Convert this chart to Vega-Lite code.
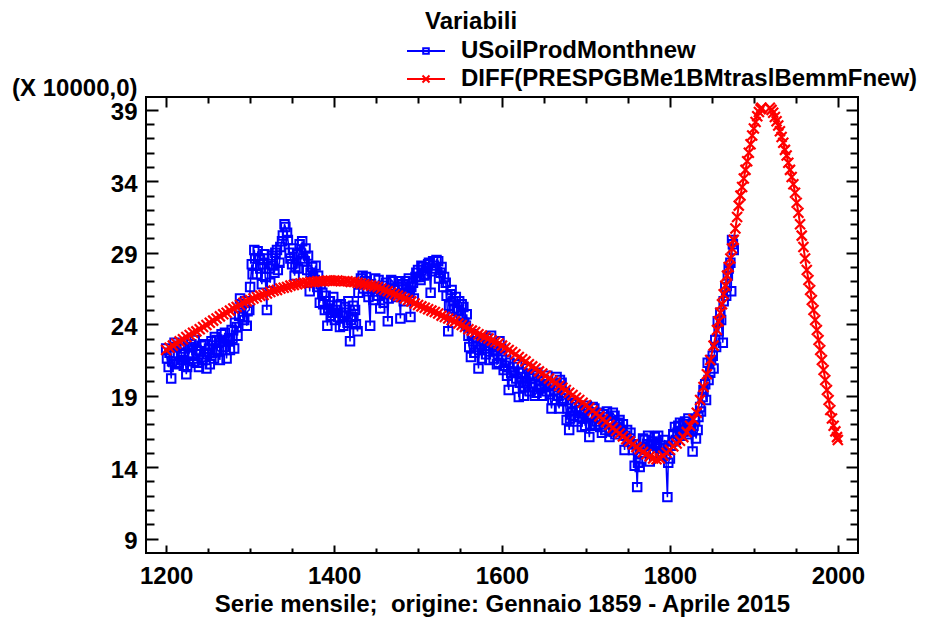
{
  "$schema": "https://vega.github.io/schema/vega-lite/v6.json",
  "width": 712,
  "height": 456,
  "autosize": {"type": "none"},
  "padding": {"left": 146, "top": 97, "right": 75, "bottom": 68},
  "background": "white",
  "config": {
    "view": {"stroke": "black", "strokeWidth": 2},
    "axis": {
      "labelFont": "Liberation Sans", "labelFontWeight": "bold", "labelFontSize": 24, "labelColor": "black",
      "titleFont": "Liberation Sans", "titleFontWeight": "bold", "titleFontSize": 24, "titleColor": "black",
      "tickColor": "black", "tickWidth": 2, "domain": false, "grid": false
    }
  },
  "datasets": {
    "blue": [
      {"t":1200,"v":22.3},{"t":1203,"v":21.0},{"t":1206,"v":20.2},{"t":1209,"v":21.8},{"t":1212,"v":22.4},{"t":1215,"v":21.3},{"t":1218,"v":22.0},{"t":1221,"v":21.1},{"t":1224,"v":20.5},{"t":1227,"v":21.9},
      {"t":1230,"v":22.6},{"t":1233,"v":21.4},{"t":1236,"v":22.2},{"t":1239,"v":21.0},{"t":1242,"v":22.5},{"t":1245,"v":21.7},{"t":1248,"v":20.9},{"t":1251,"v":22.3},{"t":1254,"v":22.8},{"t":1257,"v":21.6},
      {"t":1260,"v":22.9},{"t":1263,"v":22.1},{"t":1266,"v":23.3},{"t":1269,"v":22.4},{"t":1272,"v":21.6},{"t":1275,"v":23.0},{"t":1278,"v":23.6},{"t":1281,"v":22.3},{"t":1284,"v":23.8},{"t":1287,"v":24.6},
      {"t":1290,"v":25.4},{"t":1293,"v":24.3},{"t":1296,"v":23.9},{"t":1299,"v":25.0},{"t":1302,"v":28.2},{"t":1305,"v":29.2},{"t":1308,"v":27.5},{"t":1311,"v":28.6},{"t":1314,"v":26.8},{"t":1317,"v":28.9},
      {"t":1320,"v":25.0},{"t":1323,"v":27.9},{"t":1326,"v":28.8},{"t":1329,"v":27.6},{"t":1332,"v":29.2},{"t":1335,"v":28.3},{"t":1338,"v":29.8},{"t":1341,"v":31.0},{"t":1344,"v":30.4},{"t":1347,"v":29.0},
      {"t":1350,"v":28.2},{"t":1353,"v":27.4},{"t":1356,"v":28.9},{"t":1359,"v":29.6},{"t":1362,"v":29.8},{"t":1365,"v":28.4},{"t":1368,"v":27.8},{"t":1371,"v":26.3},{"t":1374,"v":28.0},{"t":1377,"v":27.1},
      {"t":1380,"v":26.6},{"t":1383,"v":25.5},{"t":1386,"v":26.2},{"t":1389,"v":25.0},{"t":1392,"v":23.9},{"t":1395,"v":25.6},{"t":1398,"v":24.8},{"t":1401,"v":24.3},{"t":1404,"v":25.3},{"t":1407,"v":23.8},
      {"t":1410,"v":24.6},{"t":1413,"v":25.2},{"t":1416,"v":24.1},{"t":1419,"v":22.8},{"t":1422,"v":24.5},{"t":1425,"v":25.0},{"t":1428,"v":23.5},{"t":1431,"v":26.8},{"t":1434,"v":27.4},{"t":1437,"v":27.0},
      {"t":1440,"v":26.3},{"t":1443,"v":23.9},{"t":1446,"v":26.5},{"t":1449,"v":27.2},{"t":1452,"v":26.0},{"t":1455,"v":25.1},{"t":1458,"v":26.7},{"t":1461,"v":26.2},{"t":1464,"v":24.2},{"t":1467,"v":26.4},
      {"t":1470,"v":27.0},{"t":1473,"v":26.1},{"t":1476,"v":26.6},{"t":1479,"v":24.4},{"t":1482,"v":26.8},{"t":1485,"v":27.0},{"t":1488,"v":26.2},{"t":1491,"v":24.5},{"t":1494,"v":26.9},{"t":1497,"v":27.3},
      {"t":1500,"v":27.8},{"t":1503,"v":27.1},{"t":1506,"v":28.0},{"t":1509,"v":27.5},{"t":1512,"v":28.2},{"t":1515,"v":26.2},{"t":1518,"v":28.4},{"t":1521,"v":27.9},{"t":1524,"v":28.4},{"t":1527,"v":27.6},
      {"t":1530,"v":26.6},{"t":1533,"v":26.9},{"t":1536,"v":23.5},{"t":1539,"v":26.1},{"t":1542,"v":25.6},{"t":1545,"v":25.9},{"t":1548,"v":25.0},{"t":1551,"v":24.6},{"t":1554,"v":25.2},{"t":1557,"v":23.9},
      {"t":1560,"v":23.2},{"t":1563,"v":21.7},{"t":1566,"v":22.8},{"t":1569,"v":22.4},{"t":1572,"v":20.9},{"t":1575,"v":22.6},{"t":1578,"v":22.9},{"t":1581,"v":21.9},{"t":1584,"v":22.5},{"t":1587,"v":23.2},
      {"t":1590,"v":21.6},{"t":1593,"v":22.1},{"t":1596,"v":21.3},{"t":1599,"v":22.3},{"t":1602,"v":20.8},{"t":1605,"v":21.5},{"t":1608,"v":19.4},{"t":1611,"v":20.6},{"t":1614,"v":21.0},{"t":1617,"v":20.2},
      {"t":1620,"v":18.9},{"t":1623,"v":20.3},{"t":1626,"v":19.0},{"t":1629,"v":20.0},{"t":1632,"v":20.5},{"t":1635,"v":19.6},{"t":1638,"v":20.4},{"t":1641,"v":19.2},{"t":1644,"v":20.0},{"t":1647,"v":19.5},
      {"t":1650,"v":20.1},{"t":1653,"v":19.3},{"t":1656,"v":19.8},{"t":1659,"v":18.1},{"t":1662,"v":19.4},{"t":1665,"v":20.3},{"t":1668,"v":18.1},{"t":1671,"v":19.9},{"t":1674,"v":18.8},{"t":1677,"v":17.3},
      {"t":1680,"v":16.6},{"t":1683,"v":18.4},{"t":1686,"v":17.6},{"t":1689,"v":18.2},{"t":1692,"v":17.5},{"t":1695,"v":16.8},{"t":1698,"v":17.9},{"t":1701,"v":18.3},{"t":1704,"v":16.1},{"t":1707,"v":17.7},
      {"t":1710,"v":18.1},{"t":1713,"v":17.2},{"t":1716,"v":17.8},{"t":1719,"v":16.4},{"t":1722,"v":17.5},{"t":1725,"v":17.9},{"t":1728,"v":16.1},{"t":1731,"v":17.0},{"t":1734,"v":17.6},{"t":1737,"v":16.8},
      {"t":1740,"v":17.3},{"t":1743,"v":16.5},{"t":1746,"v":15.2},{"t":1749,"v":16.6},{"t":1752,"v":16.0},{"t":1755,"v":15.6},{"t":1758,"v":14.1},{"t":1761,"v":12.6},{"t":1764,"v":14.0},{"t":1767,"v":15.3},
      {"t":1770,"v":15.9},{"t":1773,"v":15.6},{"t":1776,"v":14.4},{"t":1779,"v":15.8},{"t":1782,"v":16.1},{"t":1785,"v":15.7},{"t":1788,"v":15.3},{"t":1791,"v":14.8},{"t":1794,"v":15.9},{"t":1797,"v":11.9},
      {"t":1800,"v":14.6},{"t":1803,"v":15.8},{"t":1806,"v":16.8},{"t":1809,"v":16.4},{"t":1812,"v":17.1},{"t":1815,"v":16.5},{"t":1818,"v":17.2},{"t":1821,"v":16.3},{"t":1824,"v":16.8},{"t":1827,"v":15.1},
      {"t":1830,"v":17.3},{"t":1833,"v":16.6},{"t":1836,"v":18.2},{"t":1839,"v":18.9},{"t":1842,"v":19.8},{"t":1845,"v":21.3},{"t":1848,"v":20.6},{"t":1851,"v":21.8},{"t":1854,"v":22.9},{"t":1857,"v":24.2},
      {"t":1860,"v":24.8},{"t":1863,"v":22.7},{"t":1866,"v":26.6},{"t":1869,"v":27.4},{"t":1872,"v":28.3},{"t":1873,"v":26.3},{"t":1874,"v":29.9},{"t":1876,"v":29.2},
      {"t":1201,"v":21.6},{"t":1204,"v":22.0},{"t":1207,"v":21.4},{"t":1210,"v":22.7},{"t":1213,"v":21.2},{"t":1216,"v":22.5},{"t":1219,"v":21.5},{"t":1222,"v":22.3},{"t":1225,"v":21.0},{"t":1228,"v":22.4},
      {"t":1231,"v":21.8},{"t":1234,"v":22.9},{"t":1237,"v":21.3},{"t":1240,"v":22.1},{"t":1243,"v":21.5},{"t":1246,"v":22.6},{"t":1249,"v":21.9},{"t":1252,"v":21.2},{"t":1255,"v":22.0},{"t":1258,"v":23.1},
      {"t":1261,"v":22.2},{"t":1264,"v":21.5},{"t":1267,"v":22.8},{"t":1270,"v":23.4},{"t":1273,"v":22.9},{"t":1276,"v":22.2},{"t":1279,"v":23.0},{"t":1282,"v":24.1},{"t":1285,"v":23.2},{"t":1288,"v":25.8},
      {"t":1291,"v":24.5},{"t":1294,"v":25.6},{"t":1297,"v":24.9},{"t":1300,"v":26.6},{"t":1303,"v":27.5},{"t":1306,"v":28.6},{"t":1309,"v":29.1},{"t":1312,"v":27.9},{"t":1315,"v":28.2},{"t":1318,"v":27.3},
      {"t":1321,"v":28.6},{"t":1324,"v":26.9},{"t":1327,"v":28.1},{"t":1330,"v":29.0},{"t":1333,"v":27.8},{"t":1336,"v":29.4},{"t":1339,"v":30.2},{"t":1342,"v":30.8},{"t":1345,"v":29.9},{"t":1348,"v":28.6},
      {"t":1351,"v":29.3},{"t":1354,"v":28.0},{"t":1357,"v":27.9},{"t":1360,"v":29.0},{"t":1363,"v":28.6},{"t":1366,"v":29.3},{"t":1369,"v":28.8},{"t":1372,"v":27.6},{"t":1375,"v":27.3},{"t":1378,"v":28.1},
      {"t":1381,"v":27.4},{"t":1384,"v":26.8},{"t":1387,"v":25.4},{"t":1390,"v":26.0},{"t":1393,"v":25.1},{"t":1396,"v":24.6},{"t":1399,"v":25.9},{"t":1402,"v":25.0},{"t":1405,"v":24.5},{"t":1408,"v":25.4},
      {"t":1411,"v":23.9},{"t":1414,"v":24.8},{"t":1417,"v":25.6},{"t":1420,"v":24.3},{"t":1423,"v":25.3},{"t":1426,"v":24.0},{"t":1429,"v":26.2},{"t":1432,"v":27.2},{"t":1435,"v":26.5},{"t":1438,"v":27.3},
      {"t":1441,"v":25.9},{"t":1444,"v":26.8},{"t":1447,"v":25.7},{"t":1450,"v":26.5},{"t":1453,"v":27.1},{"t":1456,"v":26.3},{"t":1459,"v":25.5},{"t":1462,"v":26.9},{"t":1465,"v":25.8},{"t":1468,"v":27.1},
      {"t":1471,"v":26.4},{"t":1474,"v":25.9},{"t":1477,"v":27.0},{"t":1480,"v":26.1},{"t":1483,"v":25.6},{"t":1486,"v":26.5},{"t":1489,"v":27.2},{"t":1492,"v":26.6},{"t":1495,"v":25.8},{"t":1498,"v":27.6},
      {"t":1501,"v":27.3},{"t":1504,"v":28.1},{"t":1507,"v":27.4},{"t":1510,"v":27.9},{"t":1513,"v":28.3},{"t":1516,"v":27.7},{"t":1519,"v":28.1},{"t":1522,"v":28.5},{"t":1525,"v":27.2},{"t":1528,"v":28.0},
      {"t":1531,"v":27.3},{"t":1534,"v":26.0},{"t":1537,"v":25.3},{"t":1540,"v":26.4},{"t":1543,"v":25.1},{"t":1546,"v":24.9},{"t":1549,"v":25.6},{"t":1552,"v":25.4},{"t":1555,"v":24.1},{"t":1558,"v":24.7},
      {"t":1561,"v":22.4},{"t":1564,"v":23.3},{"t":1567,"v":22.0},{"t":1570,"v":23.1},{"t":1573,"v":22.2},{"t":1576,"v":21.6},{"t":1579,"v":22.3},{"t":1582,"v":23.0},{"t":1585,"v":21.5},{"t":1588,"v":22.7},
      {"t":1591,"v":22.4},{"t":1594,"v":21.2},{"t":1597,"v":22.8},{"t":1600,"v":21.8},{"t":1603,"v":21.1},{"t":1606,"v":20.4},{"t":1609,"v":21.3},{"t":1612,"v":20.0},{"t":1615,"v":20.7},{"t":1618,"v":21.2},
      {"t":1621,"v":19.9},{"t":1624,"v":20.6},{"t":1627,"v":19.6},{"t":1630,"v":20.9},{"t":1633,"v":19.3},{"t":1636,"v":20.2},{"t":1639,"v":19.0},{"t":1642,"v":20.6},{"t":1645,"v":19.7},{"t":1648,"v":19.0},
      {"t":1651,"v":19.6},{"t":1654,"v":20.4},{"t":1657,"v":19.1},{"t":1660,"v":18.7},{"t":1663,"v":19.8},{"t":1666,"v":19.0},{"t":1669,"v":20.1},{"t":1672,"v":18.6},{"t":1675,"v":19.2},{"t":1678,"v":18.1},
      {"t":1681,"v":17.4},{"t":1684,"v":17.9},{"t":1687,"v":18.5},{"t":1690,"v":17.2},{"t":1693,"v":18.0},{"t":1696,"v":17.4},{"t":1699,"v":16.9},{"t":1702,"v":17.6},{"t":1705,"v":17.0},{"t":1708,"v":18.2},
      {"t":1711,"v":16.9},{"t":1714,"v":17.5},{"t":1717,"v":16.8},{"t":1720,"v":17.7},{"t":1723,"v":16.6},{"t":1726,"v":17.3},{"t":1729,"v":16.5},{"t":1732,"v":17.8},{"t":1735,"v":16.3},{"t":1738,"v":17.1},
      {"t":1741,"v":16.6},{"t":1744,"v":17.0},{"t":1747,"v":16.2},{"t":1750,"v":15.8},{"t":1753,"v":16.4},{"t":1756,"v":15.2},{"t":1759,"v":15.6},{"t":1762,"v":14.3},{"t":1765,"v":15.0},{"t":1768,"v":16.0},
      {"t":1771,"v":15.2},{"t":1774,"v":16.2},{"t":1777,"v":15.5},{"t":1780,"v":15.0},{"t":1783,"v":15.6},{"t":1786,"v":16.2},{"t":1789,"v":15.0},{"t":1792,"v":15.5},{"t":1795,"v":14.9},{"t":1798,"v":14.3},
      {"t":1801,"v":15.5},{"t":1804,"v":16.3},{"t":1807,"v":15.9},{"t":1810,"v":16.9},{"t":1813,"v":16.2},{"t":1816,"v":17.0},{"t":1819,"v":16.6},{"t":1822,"v":17.4},{"t":1825,"v":16.5},{"t":1828,"v":16.9},
      {"t":1831,"v":16.0},{"t":1834,"v":17.5},{"t":1837,"v":17.9},{"t":1840,"v":19.4},{"t":1843,"v":18.7},{"t":1846,"v":20.1},{"t":1849,"v":21.5},{"t":1852,"v":20.9},{"t":1855,"v":22.4},{"t":1858,"v":23.5},
      {"t":1861,"v":24.3},{"t":1864,"v":25.6},{"t":1867,"v":26.0},{"t":1870,"v":27.9},{"t":1875,"v":29.6}
    ],
    "red": [
      {"t":1200,"v":22.2,"s":1},{"t":1204,"v":22.35,"s":1},{"t":1208,"v":22.5,"s":1},{"t":1212,"v":22.65,"s":1},{"t":1216,"v":22.8,"s":1},{"t":1220,"v":22.95,"s":1},{"t":1224,"v":23.1,"s":1},{"t":1228,"v":23.25,"s":1},{"t":1232,"v":23.4,"s":1},{"t":1236,"v":23.5,"s":1},
      {"t":1240,"v":23.65,"s":1},{"t":1244,"v":23.8,"s":1},{"t":1248,"v":23.95,"s":1},{"t":1252,"v":24.1,"s":1},{"t":1256,"v":24.25,"s":1},{"t":1260,"v":24.4,"s":1},{"t":1264,"v":24.55,"s":1},{"t":1268,"v":24.7,"s":1},{"t":1272,"v":24.8,"s":1},{"t":1276,"v":24.95,"s":1},
      {"t":1280,"v":25.1,"s":1},{"t":1284,"v":25.2,"s":1},{"t":1288,"v":25.35,"s":1},{"t":1292,"v":25.5,"s":1},{"t":1296,"v":25.6,"s":1},{"t":1300,"v":25.7,"s":1},{"t":1304,"v":25.8,"s":1},{"t":1308,"v":25.9,"s":1},{"t":1312,"v":26.0,"s":1},{"t":1316,"v":26.05,"s":1},
      {"t":1320,"v":26.15,"s":1},{"t":1324,"v":26.25,"s":1},{"t":1328,"v":26.35,"s":1},{"t":1332,"v":26.4,"s":1},{"t":1336,"v":26.5,"s":1},{"t":1340,"v":26.55,"s":1},{"t":1344,"v":26.6,"s":1},{"t":1348,"v":26.7,"s":1},{"t":1352,"v":26.75,"s":1},{"t":1356,"v":26.8,"s":1},
      {"t":1360,"v":26.85,"s":1},{"t":1364,"v":26.9,"s":1},{"t":1368,"v":26.9,"s":1},{"t":1372,"v":26.95,"s":1},{"t":1376,"v":26.95,"s":1},{"t":1380,"v":27.0,"s":1},{"t":1384,"v":27.0,"s":1},{"t":1388,"v":27.0,"s":1},{"t":1392,"v":27.05,"s":1},{"t":1396,"v":27.05,"s":1},
      {"t":1400,"v":27.05,"s":1},{"t":1404,"v":27.05,"s":1},{"t":1408,"v":27.0,"s":1},{"t":1412,"v":27.0,"s":1},{"t":1416,"v":27.0,"s":1},{"t":1420,"v":26.95,"s":1},{"t":1424,"v":26.95,"s":1},{"t":1428,"v":26.9,"s":1},{"t":1432,"v":26.85,"s":1},{"t":1436,"v":26.8,"s":1},
      {"t":1440,"v":26.75,"s":1},{"t":1444,"v":26.7,"s":1},{"t":1448,"v":26.65,"s":1},{"t":1452,"v":26.6,"s":1},{"t":1456,"v":26.5,"s":1},{"t":1460,"v":26.4,"s":1},{"t":1464,"v":26.3,"s":1},{"t":1468,"v":26.2,"s":1},{"t":1472,"v":26.1,"s":1},{"t":1476,"v":26.0,"s":1},
      {"t":1480,"v":25.9,"s":1},{"t":1484,"v":25.8,"s":1},{"t":1488,"v":25.7,"s":1},{"t":1492,"v":25.6,"s":1},{"t":1496,"v":25.45,"s":1},{"t":1500,"v":25.35,"s":1},{"t":1504,"v":25.25,"s":1},{"t":1508,"v":25.15,"s":1},{"t":1512,"v":25.05,"s":1},{"t":1516,"v":24.95,"s":1},
      {"t":1520,"v":24.85,"s":1},{"t":1524,"v":24.75,"s":1},{"t":1528,"v":24.6,"s":1},{"t":1532,"v":24.5,"s":1},{"t":1536,"v":24.4,"s":1},{"t":1540,"v":24.3,"s":1},{"t":1544,"v":24.2,"s":1},{"t":1548,"v":24.05,"s":1},{"t":1552,"v":23.95,"s":1},{"t":1556,"v":23.8,"s":1},
      {"t":1560,"v":23.65,"s":1},{"t":1564,"v":23.55,"s":1},{"t":1568,"v":23.45,"s":1},{"t":1572,"v":23.3,"s":1},{"t":1576,"v":23.2,"s":1},{"t":1580,"v":23.1,"s":1},{"t":1584,"v":23.0,"s":1},{"t":1588,"v":22.85,"s":1},{"t":1592,"v":22.75,"s":1},{"t":1596,"v":22.65,"s":1},
      {"t":1600,"v":22.5,"s":1},{"t":1604,"v":22.35,"s":1},{"t":1608,"v":22.2,"s":1},{"t":1612,"v":22.05,"s":1},{"t":1616,"v":21.9,"s":1},{"t":1620,"v":21.7,"s":1},{"t":1624,"v":21.55,"s":1},{"t":1628,"v":21.4,"s":1},{"t":1632,"v":21.2,"s":1},{"t":1636,"v":21.05,"s":1},
      {"t":1640,"v":20.9,"s":1},{"t":1644,"v":20.7,"s":1},{"t":1648,"v":20.55,"s":1},{"t":1652,"v":20.4,"s":1},{"t":1656,"v":20.2,"s":1},{"t":1660,"v":20.05,"s":1},{"t":1664,"v":19.9,"s":1},{"t":1668,"v":19.7,"s":1},{"t":1672,"v":19.55,"s":1},{"t":1676,"v":19.4,"s":1},
      {"t":1680,"v":19.2,"s":1},{"t":1684,"v":19.05,"s":1},{"t":1688,"v":18.85,"s":1},{"t":1692,"v":18.7,"s":1},{"t":1696,"v":18.5,"s":1},{"t":1700,"v":18.35,"s":1},{"t":1704,"v":18.15,"s":1},{"t":1708,"v":17.95,"s":1},{"t":1712,"v":17.75,"s":1},{"t":1716,"v":17.55,"s":1},
      {"t":1720,"v":17.35,"s":1},{"t":1724,"v":17.15,"s":1},{"t":1728,"v":16.95,"s":1},{"t":1732,"v":16.75,"s":1},{"t":1736,"v":16.55,"s":1},{"t":1740,"v":16.35,"s":1},{"t":1744,"v":16.15,"s":1},{"t":1748,"v":15.95,"s":1},{"t":1752,"v":15.8,"s":1},{"t":1756,"v":15.6,"s":1},
      {"t":1760,"v":15.4,"s":1},{"t":1764,"v":15.25,"s":1},{"t":1768,"v":15.05,"s":1},{"t":1772,"v":14.9,"s":1},{"t":1776,"v":14.75,"s":1},{"t":1780,"v":14.6,"s":1},{"t":1784,"v":14.55,"s":1},{"t":1788,"v":14.6,"s":1},{"t":1792,"v":14.8,"s":1},{"t":1796,"v":15.0,"s":1},
      {"t":1800,"v":15.2,"s":1},{"t":1804,"v":15.45,"s":1},{"t":1808,"v":15.65,"s":1},{"t":1812,"v":15.85,"s":1},{"t":1816,"v":16.1,"s":1},{"t":1820,"v":16.45,"s":1},{"t":1824,"v":16.9,"s":1},{"t":1828,"v":17.35,"s":1},{"t":1832,"v":17.8,"s":1},{"t":1836,"v":18.7,"s":1},
      {"t":1840,"v":19.6,"s":1},{"t":1844,"v":20.5,"s":1},{"t":1848,"v":21.5,"s":1},{"t":1852,"v":22.5,"s":1},{"t":1856,"v":23.6,"s":1},{"t":1858,"v":24.2,"s":1},{"t":1860,"v":24.8,"s":1},{"t":1862,"v":25.4,"s":1},{"t":1864,"v":26.1,"s":1},{"t":1866,"v":26.7,"s":1},
      {"t":1868,"v":27.4,"s":1},{"t":1870,"v":28.0,"s":1},{"t":1872,"v":28.6,"s":1},{"t":1874,"v":29.3,"s":1},{"t":1876,"v":29.9,"s":1},{"t":1878,"v":30.7,"s":1},{"t":1880,"v":31.5,"s":1},{"t":1882,"v":32.3,"s":1},{"t":1884,"v":33.0,"s":1},{"t":1886,"v":33.6,"s":1},
      {"t":1888,"v":34.2,"s":1},{"t":1890,"v":34.8,"s":1},{"t":1892,"v":35.4,"s":1},{"t":1894,"v":36.0,"s":1},{"t":1896,"v":36.6,"s":1},{"t":1898,"v":37.2,"s":1},{"t":1900,"v":37.7,"s":1},{"t":1902,"v":38.15,"s":1},{"t":1904,"v":38.55,"s":1},{"t":1906,"v":38.85,"s":1},
      {"t":1908,"v":39.05,"s":1},{"t":1909,"v":39.15,"s":1},
      {"t":1919,"v":39.15,"s":2},{"t":1921,"v":39.0,"s":2},{"t":1923,"v":38.8,"s":2},{"t":1925,"v":38.5,"s":2},{"t":1927,"v":38.2,"s":2},{"t":1929,"v":37.9,"s":2},{"t":1931,"v":37.5,"s":2},{"t":1933,"v":37.1,"s":2},{"t":1935,"v":36.7,"s":2},{"t":1937,"v":36.2,"s":2},
      {"t":1939,"v":35.8,"s":2},{"t":1941,"v":35.3,"s":2},{"t":1943,"v":34.8,"s":2},{"t":1945,"v":34.3,"s":2},{"t":1947,"v":33.8,"s":2},{"t":1949,"v":33.2,"s":2},{"t":1951,"v":32.5,"s":2},{"t":1953,"v":31.8,"s":2},{"t":1955,"v":31.0,"s":2},{"t":1957,"v":30.2,"s":2},
      {"t":1959,"v":29.4,"s":2},{"t":1961,"v":28.6,"s":2},{"t":1963,"v":27.8,"s":2},{"t":1965,"v":27.1,"s":2},{"t":1967,"v":26.4,"s":2},{"t":1969,"v":25.7,"s":2},{"t":1971,"v":25.0,"s":2},{"t":1973,"v":24.3,"s":2},{"t":1975,"v":23.6,"s":2},{"t":1977,"v":22.9,"s":2},
      {"t":1979,"v":22.2,"s":2},{"t":1981,"v":21.5,"s":2},{"t":1983,"v":20.8,"s":2},{"t":1985,"v":20.1,"s":2},{"t":1987,"v":19.4,"s":2},{"t":1989,"v":18.7,"s":2},{"t":1991,"v":18.0,"s":2},{"t":1993,"v":17.4,"s":2},{"t":1995,"v":16.9,"s":2},{"t":1997,"v":16.5,"s":2},
      {"t":1999,"v":16.1,"s":2},{"t":2000,"v":15.9,"s":2}
    ]
  },
  "resolve": {"axis": {"x": "independent", "y": "independent"}},
  "layer": [
    {
      "data": {"name": "blue"},
      "mark": {"type": "line", "strokeWidth": 1.5, "clip": true},
      "encoding": {
        "x": {"field": "t", "type": "quantitative",
          "scale": {"domain": [1176, 2024], "nice": false, "zero": false},
          "axis": {"orient": "bottom", "values": [1200, 1400, 1600, 1800, 2000], "format": "d", "tickSize": -8, "labelPadding": 19,
            "title": "Serie mensile; \u00a0origine: Gennaio 1859 - Aprile 2015", "titlePadding": 4}},
        "y": {"field": "v", "type": "quantitative",
          "scale": {"domain": [7.99, 39.9], "nice": false, "zero": false},
          "axis": {"orient": "left", "values": [9, 14, 19, 24, 29, 34, 39], "format": "d", "tickSize": -12, "labelPadding": 21, "labelOffset": 3,
            "title": "(X 10000,0)", "titleAngle": 0, "titleAlign": "right", "titleBaseline": "alphabetic", "titleX": -9, "titleY": -2}},
        "color": {"datum": "USoilProdMonthnew", "type": "nominal",
          "scale": {"domain": ["USoilProdMonthnew", "DIFF(PRESPGBMe1BMtraslBemmFnew)"], "range": ["#0000FF", "#FF0000"]},
          "legend": {"orient": "none", "direction": "vertical", "legendX": 268, "legendY": -87,
            "title": "Variabili", "titleFont": "Liberation Sans", "titleFontSize": 24, "titleFontWeight": "bold", "titleColor": "black", "titlePadding": 5,
            "labelFont": "Liberation Sans", "labelFontSize": 24, "labelFontWeight": "bold", "labelColor": "black", "labelOffset": 23, "labelLimit": 700,
            "symbolSize": 400, "symbolStrokeWidth": 2, "symbolFillColor": "transparent", "rowPadding": 4,
            "encode": {
              "title": {"update": {"dx": {"value": 11}}},
              "symbols": {"update": {
                "shape": {"signal": "datum.value === 'USoilProdMonthnew' ? 'M-1.9,0H1.9M-0.28,-0.28H0.28V0.28H-0.28Z' : 'M-1.9,0H1.9M-0.35,-0.35L0.35,0.35M-0.35,0.35L0.35,-0.35'"},
                "fill": {"value": "transparent"}}}
            }}}
      }
    },
    {
      "data": {"name": "blue"},
      "mark": {"type": "point", "shape": "square", "filled": false, "size": 72, "strokeWidth": 2, "opacity": 1, "clip": true},
      "encoding": {
        "x": {"field": "t", "type": "quantitative",
          "axis": {"orient": "bottom", "values": [1250, 1300, 1350, 1450, 1500, 1550, 1650, 1700, 1750, 1850, 1900, 1950], "tickSize": -5, "labels": false, "title": null}},
        "y": {"field": "v", "type": "quantitative",
          "axis": {"orient": "left", "values": [10, 11, 12, 13, 15, 16, 17, 18, 20, 21, 22, 23, 25, 26, 27, 28, 30, 31, 32, 33, 35, 36, 37, 38], "tickSize": -8, "labels": false, "title": null}},
        "color": {"datum": "USoilProdMonthnew", "type": "nominal"}
      }
    },
    {
      "data": {"name": "red"},
      "mark": {"type": "line", "strokeWidth": 2, "clip": true},
      "encoding": {
        "x": {"field": "t", "type": "quantitative",
          "axis": {"orient": "top", "values": [1200, 1400, 1600, 1800, 2000], "tickSize": -10, "labels": false, "title": null}},
        "y": {"field": "v", "type": "quantitative",
          "axis": {"orient": "right", "values": [9, 14, 19, 24, 29, 34, 39], "tickSize": -12, "labels": false, "title": null}},
        "detail": {"field": "s", "type": "nominal"},
        "color": {"datum": "DIFF(PRESPGBMe1BMtraslBemmFnew)", "type": "nominal"}
      }
    },
    {
      "data": {"name": "red"},
      "mark": {"type": "point", "shape": "M-1,-1L1,1M-1,1L1,-1", "filled": false, "size": 100, "strokeWidth": 2.2, "opacity": 1, "clip": true},
      "encoding": {
        "x": {"field": "t", "type": "quantitative",
          "axis": {"orient": "top", "values": [1250, 1300, 1350, 1450, 1500, 1550, 1650, 1700, 1750, 1850, 1900, 1950], "tickSize": -6, "labels": false, "title": null}},
        "y": {"field": "v", "type": "quantitative",
          "axis": {"orient": "right", "values": [10, 11, 12, 13, 15, 16, 17, 18, 20, 21, 22, 23, 25, 26, 27, 28, 30, 31, 32, 33, 35, 36, 37, 38], "tickSize": -8, "labels": false, "title": null}},
        "color": {"datum": "DIFF(PRESPGBMe1BMtraslBemmFnew)", "type": "nominal"}
      }
    }
  ]
}
